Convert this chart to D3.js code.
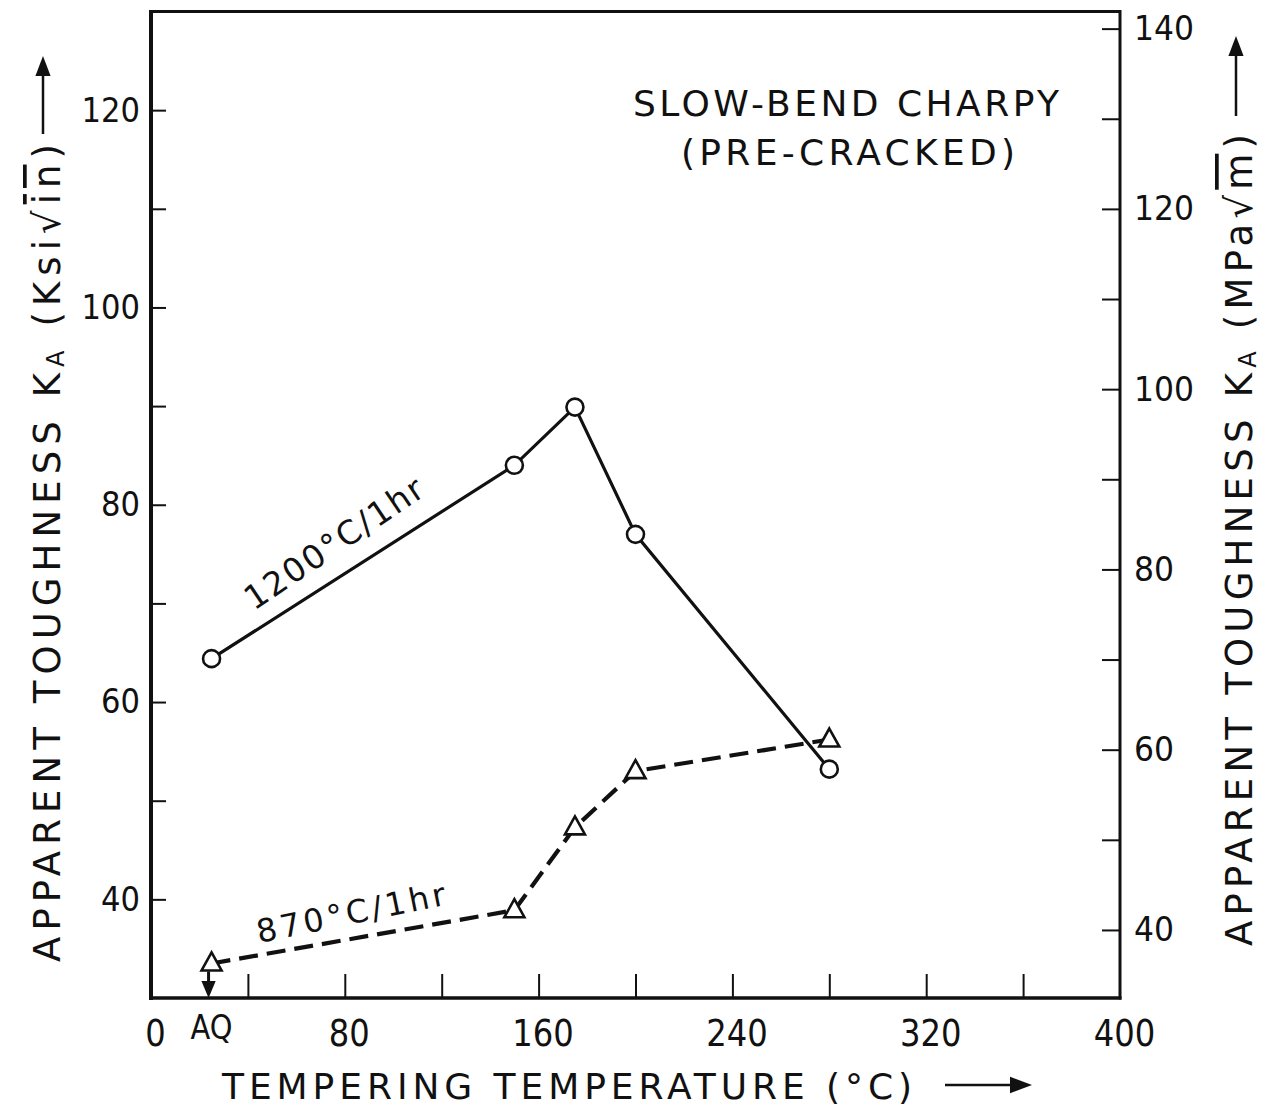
<!DOCTYPE html>
<html>
<head>
<meta charset="utf-8">
<script src="https://cdn.jsdelivr.net/npm/d3@7"></script>
<style>
  body { margin: 0; background: #fff; }
  text { font-family: "DejaVu Sans", sans-serif; fill: #111; }
</style>
</head>
<body>
<svg id="chart" width="1263" height="1108"></svg>
<script>
// Tempering temperature (°C); the as-quenched (AQ) condition is plotted at room temperature
const temps = [25, 150, 175, 200, 280];
// Apparent toughness K_A (ksi√in) after austenitizing at 1200 °C / 1 hr
const toughness1200 = [64.4, 84.0, 89.9, 77.0, 53.2];
// Apparent toughness K_A (ksi√in) after austenitizing at 870 °C / 1 hr
const toughness870 = [33.5, 38.9, 47.3, 53.0, 56.2];

const aqTemp = 25;
const xTicks = [40, 80, 120, 160, 200, 240, 280, 320, 360];
const xTickLabels = [0, 80, 160, 240, 320, 400];
const ksiTicks = [40, 50, 60, 70, 80, 90, 100, 110, 120];
const ksiTickLabels = [40, 60, 80, 100, 120];
const mpaTicks = [40, 50, 60, 70, 80, 90, 100, 110, 120, 130, 140];
const mpaTickLabels = [40, 60, 80, 100, 120, 140];

const svg = d3.select("#chart");
const plotL = 151, plotR = 1120, plotT = 11.5, plotB = 998;

const x = d3.scaleLinear().domain([0, 400]).range([plotL, plotR]);
const y = d3.scaleLinear().domain([30, 130]).range([plotB, plotT]);
// MPa√m scale on the right (1 ksi√in ≈ 1.0988 MPa√m)
const y2 = d3.scaleLinear().domain([32.45, 141.9]).range([plotB, plotT]);

// ---- frame ----
const frame = svg.append("g").attr("stroke", "#111").attr("fill", "none");
frame.append("line").attr("x1", plotL).attr("x2", plotL).attr("y1", plotT - 1.5).attr("y2", plotB + 2).attr("stroke-width", 4);
frame.append("line").attr("x1", plotL).attr("x2", plotR).attr("y1", plotT).attr("y2", plotT).attr("stroke-width", 3);
frame.append("line").attr("x1", plotR).attr("x2", plotR).attr("y1", plotT - 1.5).attr("y2", plotB + 1.5).attr("stroke-width", 3);
frame.append("line").attr("x1", plotL).attr("x2", plotR + 1.5).attr("y1", plotB).attr("y2", plotB).attr("stroke-width", 3.5);

function styleTicks(g, width) {
  g.select(".domain").remove();
  g.selectAll(".tick line").attr("stroke", "#111").attr("stroke-width", width);
}
// Narrow, tall lettering for the numbers: squeeze each label to a fixed width per digit
function styleLabels(g, size, perChar) {
  g.select(".domain").remove();
  g.selectAll(".tick line").remove();
  g.selectAll(".tick text")
    .attr("font-size", size).attr("fill", "#111").attr("font-family", "DejaVu Sans, sans-serif")
    .attr("textLength", function () { return this.textContent.length * perChar; })
    .attr("lengthAdjust", "spacingAndGlyphs");
}

// ---- tick marks (pointing into the plot) ----
svg.append("g").attr("transform", `translate(0,${plotB})`)
  .call(d3.axisBottom(x).tickValues(xTicks).tickSize(-24).tickFormat(""))
  .call(g => styleTicks(g, 2));
svg.append("g").attr("transform", `translate(${plotL},0)`)
  .call(d3.axisLeft(y).tickValues(ksiTicks).tickSize(-15).tickFormat(""))
  .call(g => styleTicks(g, 2));
svg.append("g").attr("transform", `translate(${plotR},0)`)
  .call(d3.axisRight(y2).tickValues(mpaTicks).tickSize(-18).tickFormat(""))
  .call(g => styleTicks(g, 2));

// ---- tick labels ----
svg.append("g").attr("transform", `translate(4,${plotB})`)
  .call(d3.axisBottom(x).tickValues(xTickLabels).tickSize(0).tickPadding(22).tickFormat(d3.format("d")))
  .call(g => styleLabels(g, 37, 20.5));
svg.append("g").attr("transform", `translate(${plotL},0)`)
  .call(d3.axisLeft(y).tickValues(ksiTickLabels).tickSize(0).tickPadding(11).tickFormat(d3.format("d")))
  .call(g => styleLabels(g, 34, 19.5));
svg.append("g").attr("transform", `translate(${plotR},0)`)
  .call(d3.axisRight(y2).tickValues(mpaTickLabels).tickSize(0).tickPadding(14).tickFormat(d3.format("d")))
  .call(g => styleLabels(g, 34, 20));

svg.append("text").attr("x", x(aqTemp)).attr("y", 1039).attr("text-anchor", "middle")
  .attr("font-size", 33).attr("textLength", 42).attr("lengthAdjust", "spacingAndGlyphs").text("AQ");

// ---- arrow helper ----
function arrow(x1, y1, x2, y2, head, widthRatio = 0.38, sw = 2.5) {
  const a = Math.atan2(y2 - y1, x2 - x1);
  const hx = x2 - head * Math.cos(a), hy = y2 - head * Math.sin(a);
  svg.append("line").attr("x1", x1).attr("y1", y1).attr("x2", hx).attr("y2", hy)
    .attr("stroke", "#111").attr("stroke-width", sw);
  const w = head * widthRatio;
  const p = [[x2, y2],
             [hx + w * Math.sin(a), hy - w * Math.cos(a)],
             [hx - w * Math.sin(a), hy + w * Math.cos(a)]];
  svg.append("path").attr("d", d3.line()(p) + "Z").attr("fill", "#111");
}

// ---- axis titles ----
function axisTitle(tx, ty, len, unitParts) {
  const t = svg.append("text")
    .attr("transform", `translate(${tx},${ty}) rotate(-90)`)
    .attr("font-size", 37).attr("textLength", len).attr("lengthAdjust", "spacing");
  t.append("tspan").text("APPARENT TOUGHNESS  K");
  t.append("tspan").attr("font-size", 24).attr("dy", 4).text("A");
  t.append("tspan").attr("dy", -4).text("  (" + unitParts[0] + "√");
  t.append("tspan").style("text-decoration", "overline").text(unitParts[1]);
  t.append("tspan").text(")");
}
axisTitle(60, 962, 818, ["Ksi", "in"]);
arrow(43, 134, 43, 56, 20);
axisTitle(1252, 946, 812, ["MPa", "m"]);
arrow(1236, 116, 1236, 36, 20);

svg.append("text").attr("x", 222).attr("y", 1099).attr("font-size", 36)
  .attr("textLength", 690).attr("lengthAdjust", "spacing")
  .text("TEMPERING TEMPERATURE  (°C)");
arrow(945, 1085, 1032, 1085, 22);

// ---- test description ----
svg.append("text").attr("x", 846).attr("y", 116).attr("text-anchor", "middle")
  .attr("font-size", 36).attr("textLength", 426).attr("lengthAdjust", "spacing")
  .text("SLOW-BEND CHARPY");
svg.append("text").attr("x", 848).attr("y", 165).attr("text-anchor", "middle")
  .attr("font-size", 36).attr("textLength", 334).attr("lengthAdjust", "spacing")
  .text("(PRE-CRACKED)");

// ---- series ----
const pts1200 = temps.map((t, i) => [t, toughness1200[i]]);
const pts870 = temps.map((t, i) => [t, toughness870[i]]);
const line = d3.line().x(d => x(d[0])).y(d => y(d[1]));

svg.append("path").attr("d", line(pts1200)).attr("fill", "none")
  .attr("stroke", "#111").attr("stroke-width", 3.2);
svg.append("path").attr("d", line(pts870)).attr("fill", "none")
  .attr("stroke", "#111").attr("stroke-width", 4.2).attr("stroke-dasharray", "19,9");

svg.selectAll(".c1200").data(pts1200).join("circle")
  .attr("cx", d => x(d[0])).attr("cy", d => y(d[1])).attr("r", 8.5)
  .attr("fill", "#fff").attr("stroke", "#111").attr("stroke-width", 2.6);

const tri = "M0,-11 L10,7 L-10,7 Z";
svg.selectAll(".t870").data(pts870).join("path")
  .attr("d", tri).attr("transform", d => `translate(${x(d[0])},${y(d[1])})`)
  .attr("fill", "#fff").attr("stroke", "#111").attr("stroke-width", 2.6);

// AQ marker arrow down to the axis
arrow(x(aqTemp) - 3, y(toughness870[0]) + 8, x(aqTemp) - 3, plotB, 17, 0.42, 3);

// ---- series labels ----
svg.append("text").attr("transform", `translate(254,611) rotate(-34)`)
  .attr("font-size", 33).attr("textLength", 208).attr("lengthAdjust", "spacing")
  .text("1200°C/1hr");
svg.append("text").attr("transform", `translate(259,943) rotate(-11.5)`)
  .attr("font-size", 32).attr("textLength", 192).attr("lengthAdjust", "spacing")
  .text("870°C/1hr");
</script>
</body>
</html>
